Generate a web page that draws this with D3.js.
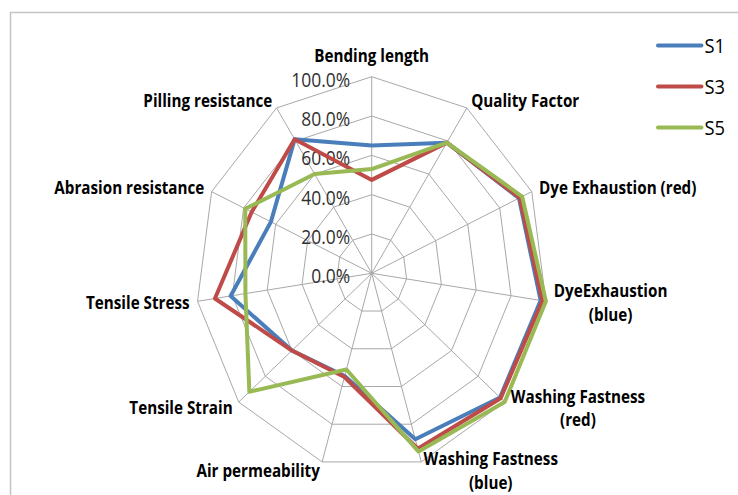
<!DOCTYPE html>
<html>
<head>
<meta charset="utf-8">
<script src="https://cdn.jsdelivr.net/npm/d3@7"></script>
<style>
  body { margin: 0; background: #fff; }
  svg { display: block; font-family: "Open Sans", Lato, sans-serif; }
</style>
</head>
<body>
<svg id="chart" width="738" height="495"></svg>
<script>
// axes, clockwise from the top
var categories = ["Bending length", "Quality Factor", "Dye Exhaustion (red)", "DyeExhaustion\n(blue)",
  "Washing Fastness\n(red)", "Washing Fastness\n(blue)", "Air permeability", "Tensile Strain",
  "Tensile Stress", "Abrasion resistance", "Pilling resistance"]

var seriesNames = ["S1", "S3", "S5"]
var s1 = [0.65, 0.79, 0.92, 0.97, 0.965, 0.88, 0.545, 0.60, 0.81, 0.63, 0.81]
var s3 = [0.475, 0.79, 0.925, 0.98, 0.97, 0.93, 0.55, 0.60, 0.90, 0.75, 0.81]
var s5 = [0.53, 0.79, 0.94, 1.0, 1.0, 0.945, 0.51, 0.92, 0.725, 0.79, 0.60]
var tickValues = [0, 0.2, 0.4, 0.6, 0.8, 1.0]

var colors = ["#4a7ebb", "#be4b48", "#98b954"]
var series = [s1, s3, s5]

var svg = d3.select("#chart"),
	cx = 371.7, cy = 273.3,
	sx = 0.895,          // the picture is squeezed sideways
	R = 196.6,
	step = 2 * Math.PI / categories.length

var r = d3.scaleLinear().domain([0, 1]).range([0, R])
var fmt = d3.format(".1%")

// frame of the chart area
svg.append("rect")
	.attr("x", 10.5).attr("y", 12.5)
	.attr("width", 800).attr("height", 600)
	.attr("fill", "none").attr("stroke", "#c4c4c4").attr("stroke-width", 1.5)

var g = svg.append("g").attr("transform", "translate(" + cx + "," + cy + ") scale(" + sx + ",1)")

var ring = d3.lineRadial()
	.angle(function(d, i) { return i * step })
	.radius(function(d) { return r(d) })
	.curve(d3.curveLinearClosed)

// grid rings
g.selectAll(".ring").data(tickValues.slice(1)).enter().append("path")
	.attr("class", "ring")
	.attr("d", function(t) { return ring(categories.map(function() { return t })) })
	.attr("fill", "none").attr("stroke", "#a8a8a8").attr("stroke-width", 1)
	.attr("vector-effect", "non-scaling-stroke")

// spokes
g.selectAll(".spoke").data(categories).enter().append("line")
	.attr("class", "spoke")
	.attr("x1", 0).attr("y1", 0)
	.attr("x2", function(d, i) { return Math.sin(i * step) * r(1) })
	.attr("y2", function(d, i) { return -Math.cos(i * step) * r(1) })
	.attr("stroke", "#a8a8a8").attr("stroke-width", 1)
	.attr("vector-effect", "non-scaling-stroke")

// tick labels along the top spoke
g.selectAll(".tick").data(tickValues).enter().append("text")
	.attr("class", "tick")
	.attr("x", -24)
	.attr("y", function(t) { return -r(t) + 2 })
	.attr("text-anchor", "end")
	.attr("dominant-baseline", "central")
	.attr("font-size", 19.5)
	.attr("fill", "#303030")
	.text(function(t) { return fmt(t) })

// series
var line = d3.lineRadial()
	.angle(function(d, i) { return i * step })
	.radius(function(d) { return r(d) })
	.curve(d3.curveLinearClosed)

g.selectAll(".series").data(series).enter().append("path")
	.attr("class", "series")
	.attr("d", line)
	.attr("fill", "none")
	.attr("stroke", function(d, i) { return colors[i] })
	.attr("stroke-width", 4)
	.attr("stroke-linejoin", "round")
	.attr("vector-effect", "non-scaling-stroke")

// axis labels
var pad = 9, lh = 23.5
categories.forEach(function(name, i) {
	var a = i * step, s = Math.sin(a), c = Math.cos(a)
	var px = s * (r(1) + pad), py = -c * (r(1) + pad)
	if (Math.abs(s) < 0.2 && c > 0) py -= 12
	var lines = name.split("\n")
	var t = g.append("text")
		.attr("font-size", 17).attr("font-weight", "bold").attr("fill", "#000")
		.attr("dominant-baseline", "central")
	var spans = lines.map(function(l) { return t.append("tspan").text(l) })
	var widths = spans.map(function(sp) { return sp.node().getComputedTextLength() })
	var w = d3.max(widths)
	var left = Math.abs(s) < 0.2 && lines.length == 1 ? px - w / 2 : (s > 0 ? px : px - w)
	var top = py - (lines.length - 1) * lh / 2
	spans.forEach(function(sp, k) {
		sp.attr("x", left + w / 2).attr("y", top + k * lh).attr("text-anchor", "middle")
	})
})

// legend
var lg = svg.append("g").attr("transform", "translate(658,0) scale(" + sx + ",1)")
var legendY = d3.scalePoint().domain(seriesNames).range([45.5, 127.5])
seriesNames.forEach(function(n, i) {
	lg.append("line")
		.attr("x1", 0).attr("x2", 48.5)
		.attr("y1", legendY(n)).attr("y2", legendY(n))
		.attr("stroke", colors[i]).attr("stroke-width", 4).attr("stroke-linecap", "round")
		.attr("vector-effect", "non-scaling-stroke")
	lg.append("text")
		.attr("x", 52).attr("y", legendY(n))
		.attr("dominant-baseline", "central")
		.attr("font-size", 20.5).attr("fill", "#000")
		.text(n)
})
</script>
</body>
</html>
